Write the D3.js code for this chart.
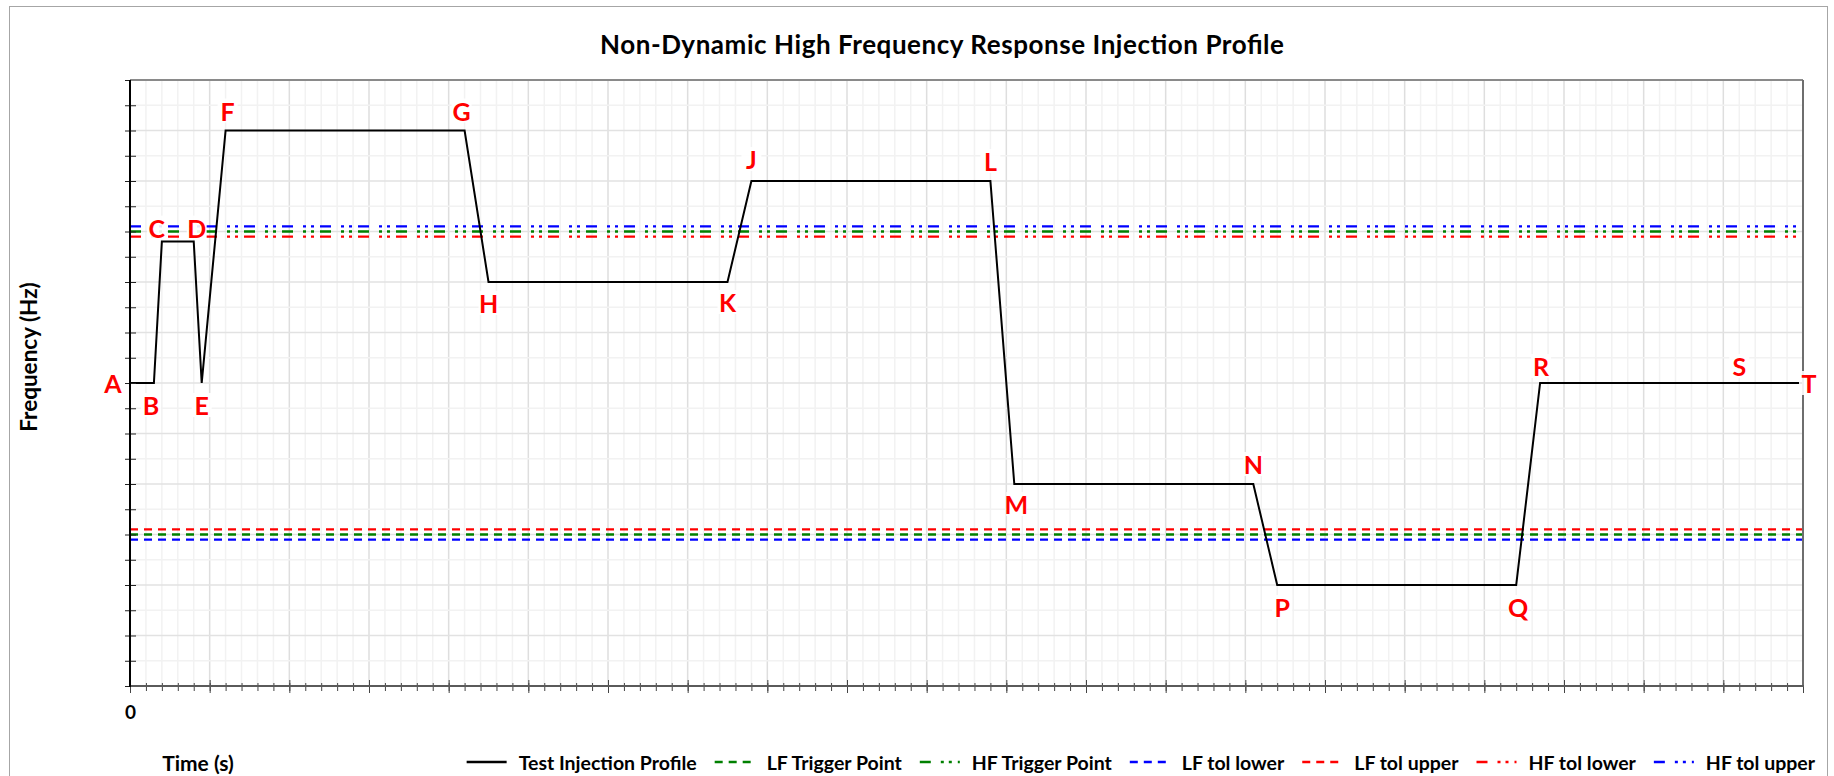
<!DOCTYPE html>
<html lang="en">
<head>
<meta charset="UTF-8">
<title>Injection Profile</title>
<script src="https://d3js.org/d3.v7.min.js"></script>
<style>
    body { margin: 0; background: #fff; }
    text { font-family: Lato, "Open Sans", sans-serif; font-weight: bold; }
</style>
</head>
<body>
<svg id="main" width="1834" height="776"></svg>

<script>
    // profile corners, time in minor tick units, frequency in grid units (no tick labels on the original)
    let pointNames = ['A','B','C','D','E','F','G','H','K','J','L','M','N','P','Q','R','S','T'];
    let times = [0, 1.5, 2, 4, 4.5, 6, 21, 22.5, 37.5, 39, 54, 55.5, 70.5, 72, 87, 88.5, 101, 105];
    let freqs = [6, 6, 8.8, 8.8, 6, 11, 11, 8, 8, 10, 10, 4, 4, 2, 2, 6, 6, 6];

    // reference lines
    let refNames = ['LF Trigger Point', 'HF Trigger Point', 'LF tol lower', 'LF tol upper', 'HF tol lower', 'HF tol upper'];
    let refValues = [3.0, 9.0, 2.9, 3.1, 8.9, 9.1];

    let xTickLabels = ['0'];

    let refColors = ['#008000', '#008000', '#0000ff', '#ff0000', '#ff0000', '#0000ff'];
    let refDash = ['8,6', '11,10,3,5,3,6', '8,6', '8,6', '11,10,3,5,3,6', '11,10,3,5,3,6'];

    // where each letter sits relative to its corner (px)
    let labelOffset = {
        A: [-17, 0], B: [-3, 22], C: [-5, -14], D: [3, -14], E: [0, 22],
        F: [2, -20], G: [-3, -20], H: [0, 21], K: [0, 20], J: [0, -22],
        L: [0, -20], M: [2, 20], N: [0, -20], P: [5, 22], Q: [2, 22],
        R: [1, -17], S: [0, -17], T: [6, 0]
    };

    let pLeft = 130, pRight = 1803, pTop = 80, pBottom = 686;
    let svg = d3.select('svg#main');

    let x = d3.scaleLinear().domain([0, 105]).range([pLeft, pRight]);
    let y = d3.scaleLinear().domain([0, 12]).range([pBottom, pTop]);

    // outer frame
    svg.append('rect')
        .attr('x', 9.5).attr('y', 6.5)
        .attr('width', 1818).attr('height', 800)
        .attr('fill', 'none').attr('stroke', '#a6a6a6');

    // title
    svg.append('text')
        .attr('x', 942).attr('y', 44)
        .attr('text-anchor', 'middle').attr('dominant-baseline', 'central')
        .attr('textLength', 684)
        .style('font-size', '26px')
        .text('Non-Dynamic High Frequency Response Injection Profile');

    // grid
    let grid = svg.append('g');
    grid.selectAll('line.v')
        .data(d3.range(1, 105))
        .enter().append('line')
        .attr('x1', d => x(d)).attr('x2', d => x(d))
        .attr('y1', pTop).attr('y2', pBottom)
        .attr('stroke', d => d % 5 == 0 ? '#dedede' : '#f2f2f2')
        .attr('stroke-width', 1.5);
    grid.selectAll('line.h')
        .data(d3.range(1, 24).map(d => d / 2))
        .enter().append('line')
        .attr('y1', d => y(d)).attr('y2', d => y(d))
        .attr('x1', pLeft).attr('x2', pRight)
        .attr('stroke', d => d % 1 == 0 ? '#e2e2e2' : '#f2f2f2')
        .attr('stroke-width', 1.5);

    // reference lines
    svg.append('g').selectAll('line')
        .data(refValues)
        .enter().append('line')
        .attr('x1', pLeft).attr('x2', pRight)
        .attr('y1', d => y(d)).attr('y2', d => y(d))
        .attr('stroke', (d, i) => refColors[i])
        .attr('stroke-width', 2.3)
        .attr('stroke-dasharray', (d, i) => refDash[i]);

    // the injection profile
    let line = d3.line()
        .x(function(d, i) { return x(times[i]); })
        .y(function(d) { return y(d); });

    svg.append('path')
        .datum(freqs)
        .attr('d', line)
        .attr('fill', 'none')
        .attr('stroke', '#000')
        .attr('stroke-width', 2)
        .attr('stroke-linejoin', 'miter');

    // axes
    let xAxisMinor = d3.axisBottom(x).tickValues(d3.range(0, 106)).tickSize(5).tickFormat('');
    let xAxisMajor = d3.axisBottom(x).tickValues(d3.range(0, 106, 5)).tickSize(7)
        .tickFormat(d => d == 0 ? xTickLabels[0] : '');
    let yAxis = d3.axisLeft(y).tickValues(d3.range(0, 25).map(d => d / 2)).tickSize(5).tickFormat('');

    let gx = svg.append('g').attr('transform', 'translate(0,' + pBottom + ')');
    gx.call(xAxisMinor);
    gx.selectAll('.tick line').attr('y1', -3).attr('stroke', '#444');
    let gx2 = svg.append('g').attr('transform', 'translate(0,' + pBottom + ')');
    gx2.call(xAxisMajor);
    gx2.selectAll('.tick line').attr('y1', -6).attr('stroke', '#444');
    gx2.selectAll('.tick text').attr('y', 20).style('font-size', '19px').style('font-family', 'Lato').attr('fill', '#000');
    gx.select('.domain').remove();
    gx2.select('.domain').remove();

    let gy = svg.append('g').attr('transform', 'translate(' + pLeft + ',0)');
    gy.call(yAxis);
    gy.select('.domain').remove();
    gy.selectAll('.tick line').attr('x2', -5).attr('x1', 6).attr('stroke', '#222');

    // frame of plot area
    svg.append('line').attr('x1', pLeft).attr('x2', pRight).attr('y1', pTop).attr('y2', pTop)
        .attr('stroke', '#8a8a8a').attr('stroke-width', 2);
    svg.append('line').attr('x1', pRight).attr('x2', pRight).attr('y1', pTop).attr('y2', pBottom)
        .attr('stroke', '#6e6e6e').attr('stroke-width', 2);
    svg.append('line').attr('x1', pLeft).attr('x2', pRight + 1).attr('y1', pBottom).attr('y2', pBottom)
        .attr('stroke', '#5a5a5a').attr('stroke-width', 2);
    svg.append('line').attr('x1', pLeft).attr('x2', pLeft).attr('y1', pTop).attr('y2', pBottom + 1)
        .attr('stroke', '#000').attr('stroke-width', 2);

    // letters
    let labels = svg.append('g').selectAll('g')
        .data(pointNames)
        .enter().append('g')
        .attr('transform', function(d, i) {
            let o = labelOffset[d];
            return 'translate(' + (x(times[i]) + o[0]) + ',' + (y(freqs[i]) + o[1]) + ')';
        });
    labels.append('rect')
        .attr('x', -10).attr('y', -12).attr('width', 20).attr('height', 24)
        .attr('fill', '#fff').attr('opacity', 0.9);
    labels.append('text')
        .attr('text-anchor', 'middle').attr('dominant-baseline', 'central')
        .attr('fill', '#ff0000')
        .style('font-size', '25px')
        .text(d => d);

    // axis titles
    svg.append('text')
        .attr('transform', 'translate(28,357) rotate(-90)')
        .attr('text-anchor', 'middle').attr('dominant-baseline', 'central')
        .style('font-size', '22.5px')
        .text('Frequency (Hz)');
    svg.append('text')
        .attr('x', 198).attr('y', 762)
        .attr('text-anchor', 'middle').attr('dominant-baseline', 'central')
        .style('font-size', '21px')
        .text('Time (s)');

    // legend, laid out right to left so it ends at the right edge
    let legNames = ['Test Injection Profile'].concat(refNames);
    let legColors = ['#000'].concat(refColors);
    let legDash = ['none'].concat(refDash);
    let leg = svg.append('g');
    let cursor = 1815;
    for (let i = legNames.length - 1; i >= 0; i--) {
        let t = leg.append('text')
            .attr('y', 762).attr('dominant-baseline', 'central')
            .style('font-size', '19.5px')
            .text(legNames[i]);
        let w = t.node().getComputedTextLength();
        t.attr('x', cursor - w);
        let sx = cursor - w - 12 - 40;
        leg.append('line')
            .attr('x1', sx).attr('x2', sx + 40)
            .attr('y1', 762).attr('y2', 762)
            .attr('stroke', legColors[i])
            .attr('stroke-width', 2.3)
            .attr('stroke-dasharray', legDash[i] == 'none' ? null : legDash[i]);
        cursor = sx - 18;
    }
</script>
</body>
</html>
